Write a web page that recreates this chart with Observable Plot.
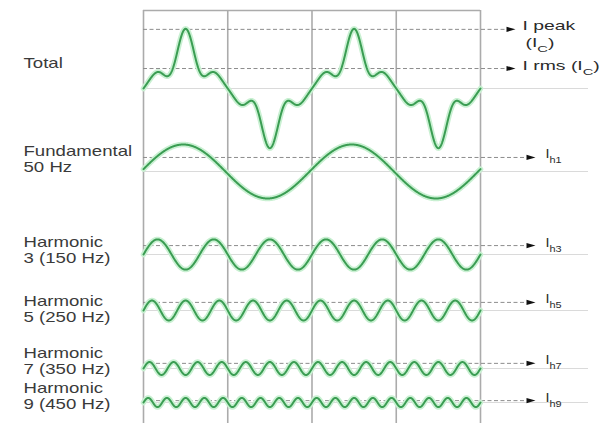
<!DOCTYPE html>
<html><head><meta charset="utf-8">
<script src="https://cdn.jsdelivr.net/npm/d3@7"></script>
<script src="https://cdn.jsdelivr.net/npm/@observablehq/plot@0.6"></script>
<style>body{margin:0;background:#fff;} #chart svg{display:block;}</style>
</head><body><div id="chart"></div>
<script>
// ---------- data ----------
const rowNames = ["Total", "Fundamental\n50 Hz", "Harmonic\n3 (150 Hz)", "Harmonic\n5 (250 Hz)", "Harmonic\n7 (350 Hz)", "Harmonic\n9 (450 Hz)"];
// individual rows: harmonic order, amplitude (fundamental = 1), phase (deg), rms marker level
const harmonicOrders = [1, 3, 5, 7, 9];
const harmonicAmplitudes = [1, 0.56, 0.37, 0.24, 0.17];
const harmonicPhases = [5, 0, 0, 0, 0];
const harmonicRmsLevels = [0.52, 0.33, 0.30, 0.19, 0.07];
const harmonicLabels = ["I_{h1}", "I_{h3}", "I_{h5}", "I_{h7}", "I_{h9}"];
// total waveform composition (as drawn in the "Total" row)
const totalOrders = [1, 3, 5, 7];
const totalAmplitudes = [1.3, 0.33, 0.43, 0.15];
const totalPhases = [0, 180, 0, 180];
const totalLevels = [2.19, 0.74];
const totalLevelLabels = [["I peak", "(I_{C})"], ["I rms (I_{C})"]];
const cycleTicks = [0, 180, 360, 540, 720];   // fundamental phase (deg) of the vertical lines

// ---------- layout ----------
const W = 610, H = 423;
const plotLeft = 143, plotRight = 480, frameTop = 10;
const unit = 27;                                   // px per fundamental amplitude
const rowCenters = [88, 171, 254, 310, 368, 402];
const rowLabelY = [62, 158, 249, 308, 360, 395];
const degPerPx = 720 / (plotRight - plotLeft);
const pxToDeg = px => (px - plotLeft) * degPerPx;

// ---------- build tables ----------
const thetas = d3.range(0, 720.01, 1);
const rad = Math.PI / 180;
const waves = [];
for (const t of thetas) {
  let v = 0;
  totalOrders.forEach((n, k) => { v += totalAmplitudes[k] * Math.sin((n * t + totalPhases[k]) * rad); });
  waves.push({row: 0, theta: t, y: rowCenters[0] - v * unit});
}
harmonicOrders.forEach((n, k) => {
  for (const t of thetas) {
    const v = harmonicAmplitudes[k] * Math.sin((n * t + harmonicPhases[k]) * rad);
    waves.push({row: k + 1, theta: t, y: rowCenters[k + 1] - v * unit});
  }
});

const levels = [];
const topLabels = [];
const hLabels = [];
totalLevels.forEach((lv, k) => {
  const y = rowCenters[0] - lv * unit;
  levels.push({y, xEnd: pxToDeg(507), xTip: pxToDeg(510)});
  totalLevelLabels[k].forEach((txt, j) => {
    topLabels.push({text: txt, x: pxToDeg(j === 0 ? 522 : 525), y: y - 3 + j * 17});
  });
});
harmonicRmsLevels.forEach((lv, k) => {
  const y = rowCenters[k + 1] - lv * unit;
  levels.push({y, xEnd: pxToDeg(526), xTip: pxToDeg(530)});
  hLabels.push({text: harmonicLabels[k], x: pxToDeg(545), y: y - 3});
});

const arrowHead = {
  draw(ctx) { ctx.moveTo(5, 0); ctx.lineTo(-4, -2.6); ctx.lineTo(-4, 2.6); ctx.closePath(); }
};

const chart = Plot.plot({
  width: W, height: H,
  marginTop: 0, marginBottom: 0, marginLeft: 0, marginRight: 0,
  x: {domain: [0, 720], range: [plotLeft, plotRight], axis: null},
  y: {domain: [0, H], range: [0, H], axis: null},
  style: {fontFamily: "'Liberation Sans', Arial, sans-serif", background: "#fff", overflow: "visible"},
  marks: [
    Plot.ruleY(rowCenters, {x1: 0, x2: pxToDeg(588), stroke: "#dadada", strokeWidth: 1.2}),
    Plot.ruleY([frameTop], {x1: 0, x2: 720, stroke: "#ababab", strokeWidth: 1.6}),
    Plot.ruleX(cycleTicks, {y1: frameTop, y2: H, stroke: "#ababab", strokeWidth: 1.6}),
    Plot.ruleY(levels, {y: "y", x1: 0, x2: "xEnd", stroke: "#8d8d8d", strokeWidth: 1, strokeDasharray: "4,2.5"}),
    Plot.dot(levels, {x: "xTip", y: "y", symbol: arrowHead, fill: "#111", stroke: "none"}),
    Plot.line(waves, {x: "theta", y: "y", z: "row", stroke: "#c9f0d2", strokeWidth: 5.5, curve: "linear"}),
    Plot.line(waves, {x: "theta", y: "y", z: "row", stroke: "#3b9d53", strokeWidth: 2, curve: "linear"}),
    Plot.text(rowNames, {x: pxToDeg(23), y: (d, i) => rowLabelY[i], text: d => d, textAnchor: "start",
      lineAnchor: "middle", fontSize: 14, lineHeight: 1.15, fill: "#3a3a3a"}),
    Plot.text(topLabels, {x: "x", y: "y", text: "text", textAnchor: "start", lineAnchor: "middle",
      fontSize: 12.5, fill: "#2a2a2a"}),
    Plot.text(hLabels, {x: "x", y: "y", text: "text", textAnchor: "start", lineAnchor: "middle",
      fontSize: 12.5, fill: "#2a2a2a"})
  ]
});

// stretch label text horizontally like the reference and render subscripts
const NS = "http://www.w3.org/2000/svg";
const textGroups = Array.from(chart.querySelectorAll("g")).filter(g => g.querySelector(":scope > text"));
const stretches = [1.33, 1.55, 1.15];
textGroups.forEach((g, gi) => {
  const sx = stretches[gi] || 1;
  g.querySelectorAll(":scope > text").forEach(t => {
    let tr = t.getAttribute("transform");
    if (!tr) {
      const x = t.getAttribute("x") || 0, y = t.getAttribute("y") || 0;
      tr = `translate(${x},${y})`;
      t.removeAttribute("x"); t.removeAttribute("y");
    }
    t.setAttribute("transform", tr + ` scale(${sx},1)`);
  });
});
chart.querySelectorAll("text").forEach(t => {
  const s = t.textContent;
  if (!s.includes("_{")) return;
  while (t.firstChild) t.removeChild(t.firstChild);
  let shifted = false;
  for (const p of s.split(/(_\{[^}]*\})/)) {
    if (!p) continue;
    const ts = document.createElementNS(NS, "tspan");
    if (p.startsWith("_{")) {
      ts.textContent = p.slice(2, -1);
      ts.setAttribute("dy", "5");
      ts.setAttribute("font-size", "9.5");
      shifted = true;
    } else {
      ts.textContent = p;
      if (shifted) { ts.setAttribute("dy", "-5"); shifted = false; }
    }
    t.appendChild(ts);
  }
});
document.getElementById("chart").appendChild(chart);
</script>
</body></html>
